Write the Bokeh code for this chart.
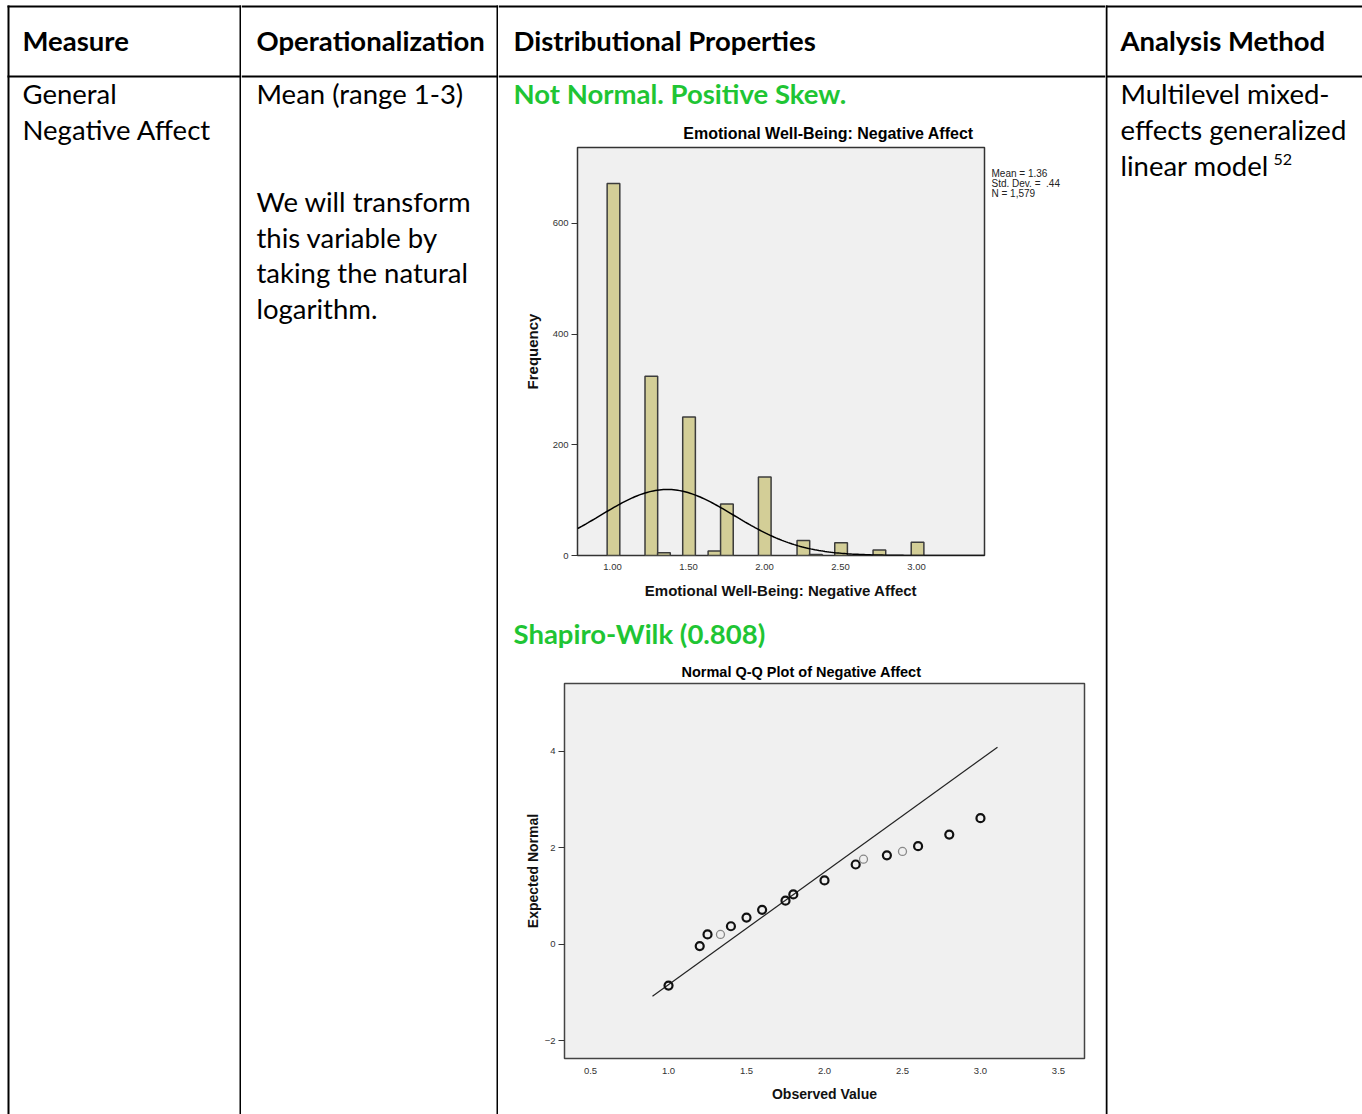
import numpy as np
from bokeh.plotting import figure
from bokeh.layouts import row, column
from bokeh.models import Range1d, FixedTicker, NumeralTickFormatter, ColumnDataSource
from bokeh.core.properties import value
from bokeh.embed import file_html
from bokeh.resources import INLINE

# ---------------- data ----------------
hist_bin_left = [0.965, 1.214, 1.297, 1.462, 1.629, 1.711, 1.960, 2.214, 2.296, 2.462, 2.714, 2.965]
hist_counts = [672, 324, 5, 250, 8, 93, 142, 27, 2, 23, 10, 24]
hist_bin_width = 0.0833
stat_mean = 1.36
stat_sd = 0.44
stat_n = 1579
hist_x_ticks = [1.0, 1.5, 2.0, 2.5, 3.0]
hist_y_ticks = [0, 200, 400, 600]

qq_observed = [1.0, 1.2, 1.25, 1.333, 1.4, 1.5, 1.6, 1.75, 1.8, 2.0, 2.2, 2.25, 2.4, 2.5, 2.6, 2.8, 3.0]
qq_expected = [-0.86, -0.04, 0.20, 0.20, 0.37, 0.55, 0.71, 0.90, 1.03, 1.32, 1.65, 1.76, 1.84, 1.92, 2.03, 2.27, 2.61]
qq_faint = [False, False, False, True, False, False, False, False, False, False, False, True, False, True, False, False, False]
qq_line_x = [0.897, 3.109]
qq_line_y = [-1.08, 4.08]
qq_x_ticks = [0.5, 1.0, 1.5, 2.0, 2.5, 3.0, 3.5]
qq_y_ticks = [-2, 0, 2, 4]

headers = ["Measure", "Operationalization", "Distributional Properties", "Analysis Method"]
col1_text = ["General", "Negative Affect"]
col2_text = ["Mean (range 1-3)"]
col2_note = ["We will transform", "this variable by", "taking the natural", "logarithm."]
col3_flags = ["Not Normal. Positive Skew.", "Shapiro-Wilk (0.808)"]
col4_text = ["Multilevel mixed-", "effects generalized", "linear model"]
col4_sup = "52"
hist_title = "Emotional Well-Being: Negative Affect"
hist_xlabel = "Emotional Well-Being: Negative Affect"
hist_ylabel = "Frequency"
stats_text = ["Mean = 1.36", "Std. Dev. =\u00a0 .44", "N = 1,579"]
qq_title = "Normal Q-Q Plot of Negative Affect"
qq_xlabel = "Observed Value"
qq_ylabel = "Expected Normal"

BODY_FONT = "Lato"
BODY_SIZE = "27.5px"
GREEN = "#1fc534"
CHART_FONT = "Liberation Sans"
H = 1114
TOP = 6
HEAD = 76


def text_fig(w, h):
    f = figure(width=w, height=h, x_range=Range1d(0, w), y_range=Range1d(h, 0),
               x_axis_type=None, y_axis_type=None, output_backend="svg",
               toolbar_location=None, min_border=0)
    f.outline_line_color = None
    f.background_fill_color = "white"
    f.border_fill_color = "white"
    f.grid.visible = False
    return f


def put(f, xs, ys, texts, size=BODY_SIZE, bold=False, color="black", font=BODY_FONT, align="left"):
    f.text(x=xs, y=ys, text=texts, text_font=value(font), text_font_size=size,
           text_font_style="bold" if bold else "normal", text_color=color,
           text_baseline="middle", text_align=align)


def hlines(f, x0, w):
    f.segment(x0=[x0, x0], y0=[TOP, HEAD], x1=[w, w], y1=[TOP, HEAD], line_color="black", line_width=2)


def vline(f, x):
    f.segment(x0=[x], y0=[TOP - 1], x1=[x], y1=[H], line_color="black", line_width=2)


# ---------------- column 1 ----------------
W1, W2, W3, W4 = 241, 257, 607, 257
c1 = text_fig(W1, H)
hlines(c1, 7, W1)
vline(c1, 8)
vline(c1, 240)
put(c1, [22], [40], [headers[0]], bold=True)
put(c1, [22, 22], [93, 129], col1_text)

# ---------------- column 2 ----------------
c2 = text_fig(W2, H)
hlines(c2, 0, W2)
vline(c2, 256)
put(c2, [15], [40], [headers[1]], bold=True)
put(c2, [15], [93], col2_text)
put(c2, [15] * 4, [201, 237, 272, 308], col2_note)

# ---------------- column 4 ----------------
c4 = text_fig(W4, H)
hlines(c4, 0, W4)
vline(c4, 1)
put(c4, [15], [40], [headers[3]], bold=True)
put(c4, [15] * 3, [93, 129, 165], col4_text)
put(c4, [168], [159], [col4_sup], size="16px")

# ---------------- column 3 ----------------
top = text_fig(W3, 142)
hlines(top, 0, W3)
put(top, [15], [40], [headers[2]], bold=True)
put(top, [15], [93], [col3_flags[0]], bold=True, color=GREEN)
put(top, [330], [133], [hist_title], size="16px", bold=True, font=CHART_FONT, align="center")

# histogram
hist = figure(width=488, height=463, x_range=Range1d(0.77, 3.447), y_range=Range1d(0, 737),
              output_backend="svg", toolbar_location=None,
              min_border_left=79, min_border_right=2, min_border_top=5, min_border_bottom=50)
hist.background_fill_color = "#f0f0f0"
hist.border_fill_color = "white"
hist.outline_line_color = "#333333"
hist.outline_line_width = 1.5
hist.grid.visible = False
right_edges = [l + hist_bin_width for l in hist_bin_left]
hist.quad(left=hist_bin_left, right=right_edges, bottom=0, top=hist_counts,
          fill_color="#d3ce97", line_color="#3c3c3c", line_width=1.5)
cx = np.linspace(0.77, 3.447, 200)
cy = stat_n * hist_bin_width / (stat_sd * np.sqrt(2 * np.pi)) * np.exp(-0.5 * ((cx - stat_mean) / stat_sd) ** 2)
hist.line(cx, cy, line_color="black", line_width=1.5)

for ax in (hist.xaxis[0], hist.yaxis[0]):
    ax.axis_line_color = None
    ax.minor_tick_line_color = None
    ax.major_label_text_font = CHART_FONT
    ax.major_label_text_font_size = "9.5px"
    ax.major_label_text_color = "#333333"
    ax.axis_label_text_font = CHART_FONT
    ax.axis_label_text_font_style = "bold"
    ax.axis_label_text_font_size = "15px"
    ax.axis_label_text_color = "#111111"
hist.xaxis.ticker = FixedTicker(ticks=hist_x_ticks)
hist.xaxis.formatter = NumeralTickFormatter(format="0.00")
hist.xaxis.major_tick_out = 0
hist.xaxis.major_tick_in = 0
hist.xaxis.major_label_standoff = 8
hist.xaxis.axis_label = hist_xlabel
hist.xaxis.axis_label_standoff = 9
hist.yaxis.ticker = FixedTicker(ticks=hist_y_ticks)
hist.yaxis.major_tick_out = 6
hist.yaxis.major_tick_in = 0
hist.yaxis.major_tick_line_color = "#333333"
hist.yaxis.major_label_standoff = 3
hist.yaxis.axis_label = hist_ylabel
hist.yaxis.axis_label_standoff = 9

stats = text_fig(119, 463)
put(stats, [5, 5, 5], [30, 41, 52], stats_text, size="10px", font=CHART_FONT, color="#222222")

mid = text_fig(W3, 75)
put(mid, [15], [28], [col3_flags[1]], bold=True, color=GREEN)
put(mid, [303], [66], [qq_title], size="14.5px", bold=True, font=CHART_FONT, align="center")

# QQ plot
qq = figure(width=W3, height=434, x_range=Range1d(0.333, 3.667), y_range=Range1d(-2.37, 5.40),
            output_backend="svg", toolbar_location=None,
            min_border_left=66, min_border_right=21, min_border_top=3, min_border_bottom=56)
qq.background_fill_color = "#f0f0f0"
qq.border_fill_color = "white"
qq.outline_line_color = "#444444"
qq.outline_line_width = 1.5
qq.grid.visible = False
qq.line(qq_line_x, qq_line_y, line_color="#222222", line_width=1.2)
src = ColumnDataSource(dict(
    x=qq_observed, y=qq_expected,
    c=["#888888" if f else "#111111" for f in qq_faint],
    w=[1.3 if f else 2.2 for f in qq_faint]))
qq.scatter("x", "y", source=src, marker="circle", size=8, fill_color=None,
           line_color="c", line_width="w")
for ax in (qq.xaxis[0], qq.yaxis[0]):
    ax.axis_line_color = None
    ax.minor_tick_line_color = None
    ax.major_label_text_font = CHART_FONT
    ax.major_label_text_font_size = "9.5px"
    ax.major_label_text_color = "#333333"
    ax.axis_label_text_font = CHART_FONT
    ax.axis_label_text_font_style = "bold"
    ax.axis_label_text_font_size = "14px"
    ax.axis_label_text_color = "#111111"
qq.xaxis.ticker = FixedTicker(ticks=qq_x_ticks)
qq.xaxis.formatter = NumeralTickFormatter(format="0.0")
qq.xaxis.major_tick_out = 0
qq.xaxis.major_tick_in = 0
qq.xaxis.major_label_standoff = 9
qq.xaxis.axis_label = qq_xlabel
qq.xaxis.axis_label_standoff = 9
qq.yaxis.ticker = FixedTicker(ticks=qq_y_ticks)
qq.yaxis.major_tick_out = 6
qq.yaxis.major_tick_in = 0
qq.yaxis.major_tick_line_color = "#333333"
qq.yaxis.major_label_standoff = 3
qq.yaxis.axis_label = qq_ylabel
qq.yaxis.axis_label_standoff = 1

col3 = column(row(top, spacing=0), row(hist, stats, spacing=0), row(mid, spacing=0),
              row(qq, spacing=0), spacing=0)
layout = row(c1, c2, col3, c4, spacing=0)

open("out.html", "w").write(file_html(layout, INLINE))
